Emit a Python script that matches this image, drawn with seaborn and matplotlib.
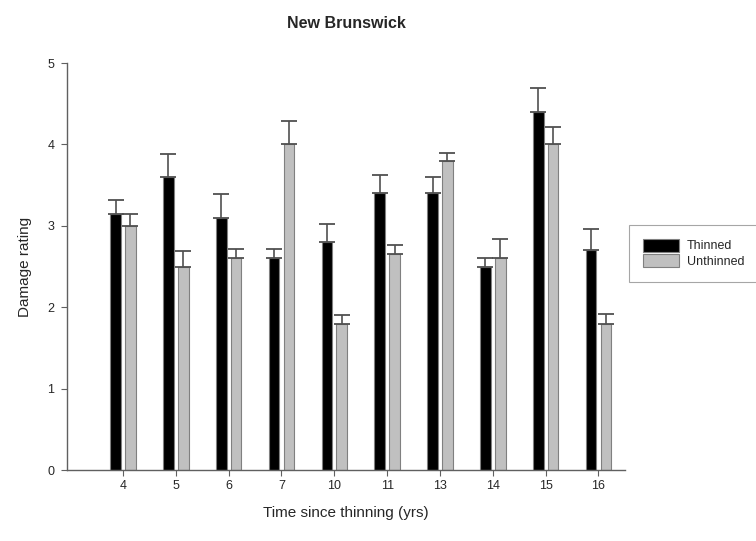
import pandas as pd
import numpy as np
import seaborn as sns
import matplotlib.pyplot as plt

# Data
years = ['4', '5', '6', '7', '10', '11', '13', '14', '15', '16']
thinned = [3.15, 3.6, 3.1, 2.6, 2.8, 3.4, 3.4, 2.5, 4.4, 2.7]
thinned_se = [0.17, 0.28, 0.29, 0.12, 0.22, 0.23, 0.2, 0.11, 0.29, 0.26]
unthinned = [3.0, 2.5, 2.6, 4.0, 1.8, 2.65, 3.8, 2.6, 4.0, 1.8]
unthinned_se = [0.14, 0.19, 0.12, 0.29, 0.11, 0.11, 0.1, 0.24, 0.22, 0.12]

df = pd.DataFrame({
    'year': years * 2,
    'rating': thinned + unthinned,
    'se': thinned_se + unthinned_se,
    'treatment': ['Thinned'] * len(years) + ['Unthinned'] * len(years),
})

sns.set_style('white')
plt.rcParams['font.family'] = ['Liberation Sans', 'DejaVu Sans']

fig = plt.figure(figsize=(7.56, 5.41), dpi=100)
ax = fig.add_axes([0.0886, 0.1312, 0.738, 0.7523])

sns.barplot(data=df, x='year', y='rating', hue='treatment',
            palette={'Thinned': 'black', 'Unthinned': '#c0c0c0'},
            width=0.56, gap=0.28, errorbar=None, ax=ax,
            edgecolor='#808080', linewidth=0.8)

# error bars (upper only) on top of each bar
for cont, grp in zip(ax.containers, ['Thinned', 'Unthinned']):
    sub = df[df['treatment'] == grp]
    xs = [p.get_x() + p.get_width() / 2 for p in cont.patches]
    ax.errorbar(xs, sub['rating'], yerr=[np.zeros(len(sub)), sub['se']],
                fmt='none', ecolor='#505050', elinewidth=1.2,
                capsize=5.5, capthick=1.3, zorder=3)

ax.set_ylim(0, 5)
ax.set_xlim(-1.06, 9.5)
ax.set_yticks(range(6))
ax.set_title('New Brunswick', fontsize=11.5, fontweight='bold', pad=25)
ax.set_xlabel('Time since thinning (yrs)', fontsize=11, labelpad=10)
ax.set_ylabel('Damage rating', fontsize=11, labelpad=11)
ax.tick_params(axis='both', labelsize=9, length=4, width=0.8,
               color='#606060', direction='out', bottom=True, left=True)
ax.tick_params(axis='y', pad=5)
sns.despine(ax=ax)
for s in ['left', 'bottom']:
    ax.spines[s].set_color('#606060')
    ax.spines[s].set_linewidth(1.0)

leg = ax.legend(loc='upper left', bbox_to_anchor=(0.997, 0.6175),
                frameon=True, fancybox=False, fontsize=9,
                handlelength=2.9, handleheight=1.2, borderpad=1.1,
                labelspacing=0.15, handletextpad=0.6, edgecolor='#909090')
leg.get_frame().set_linewidth(0.8)

fig.savefig('out.png', dpi=100)
